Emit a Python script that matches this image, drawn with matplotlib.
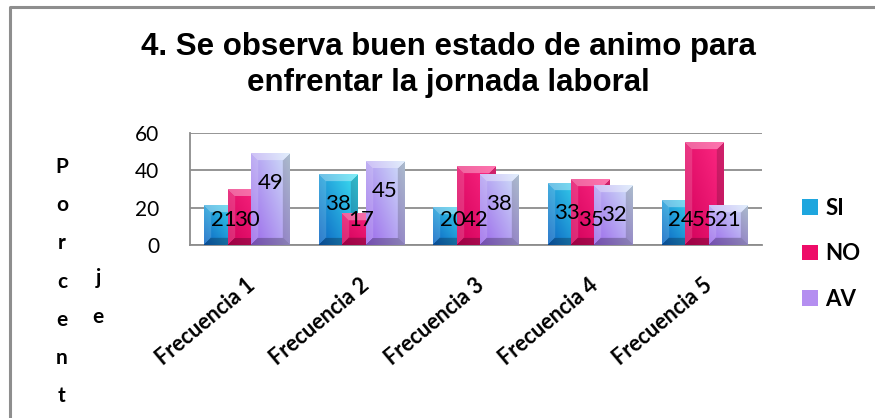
import numpy as np
import matplotlib.pyplot as plt
from matplotlib.colors import to_rgb
from matplotlib.patches import Rectangle
from matplotlib.lines import Line2D
from matplotlib.transforms import ScaledTranslation

# data
categories = ['Frecuencia 1', 'Frecuencia 2', 'Frecuencia 3', 'Frecuencia 4', 'Frecuencia 5']
si = [21, 38, 20, 33, 24]
no = [30, 17, 42, 35, 55]
av = [49, 45, 38, 32, 21]
series_names = ['SI', 'NO', 'AV']
y_ticks = [0, 20, 40, 60]
title_lines = ['4. Se observa buen estado de animo para', 'enfrentar la jornada laboral']
y_word = 'Porcentaje'

# low / high colour of each series gradient, plus flat colour for legend
grad = {'SI': ('#0b62c2', '#3ee6f4'), 'NO': ('#d2005a', '#ff2a84'), 'AV': ('#9a66ea', '#d2e6fa')}
flat = {'SI': '#1ea6de', 'NO': '#ee0c68', 'AV': '#b48ef0'}

W, H = 875, 418
fig = plt.figure(figsize=(W / 100, H / 100), dpi=100)
ax = fig.add_axes([190 / W, 173 / H, 572 / W, 112 / H])

px_x = 572 / 5.0
px_y = 112 / 60.0


def bevel_image(w_units, h_units, c_lo, c_hi, b=7):
    nx = max(int(w_units * px_x), 2)
    ny = max(int(h_units * px_y), 2)
    xx, yy = np.meshgrid(np.arange(nx) + 0.5, np.arange(ny) + 0.5)
    t = np.clip(0.55 * xx / nx + 0.45 * (1 - yy / ny), 0, 1)[..., None]
    rgb = np.array(to_rgb(c_lo)) * (1 - t) + np.array(to_rgb(c_hi)) * t
    d = np.stack([yy, ny - yy, xx, nx - xx])
    face = d.argmin(0)
    edge = d.min(0) < b
    shade = np.array([0.35, -0.25, 0.15, -0.18])[face]
    shade = np.where(edge, shade, 0.0)[..., None]
    light = rgb + (1 - rgb) * np.clip(shade, 0, 1)
    dark = rgb * (1 + np.clip(shade, -1, 0))
    return np.where(shade > 0, light, dark)


def label_y(name, v):
    # where the labels sit in the original chart
    if name == 'NO':
        return 13.5
    return max(v - 16, 13.5)


x = np.arange(len(categories))
width = 0.34
step = 0.205
for i, (name, vals) in enumerate(zip(series_names, [si, no, av])):
    bars = ax.bar(x + (i - 1) * step, vals, width, color=flat[name],
                  zorder=3 + i, label=name, linewidth=0)
    for rect, v in zip(bars, vals):
        img = bevel_image(rect.get_width(), v, *grad[name])
        ax.imshow(img, extent=(rect.get_x(), rect.get_x() + rect.get_width(), 0, v),
                  aspect='auto', interpolation='bilinear', zorder=3 + i)
        ax.text(rect.get_x() + rect.get_width() / 2, label_y(name, v), str(v),
                ha='center', va='center', fontsize=16, family='Lato', zorder=10)

ax.set_xlim(-0.5, 4.5)
ax.set_ylim(0, 60)
ax.set_yticks(y_ticks)
ax.yaxis.grid(True, color='#8c8c8c', linewidth=1.3)
ax.set_axisbelow(True)
for s in ['top', 'right']:
    ax.spines[s].set_visible(False)
for s in ['left', 'bottom']:
    ax.spines[s].set_color('#8c8c8c')
    ax.spines[s].set_linewidth(1.3)
ax.tick_params(axis='y', length=0, pad=22, labelsize=15)
ax.tick_params(axis='x', length=0, pad=27, labelsize=15.5)
for lab in ax.get_yticklabels():
    lab.set_family('Lato')
ax.set_xticks(x)
ax.set_xticklabels(categories, rotation=40, ha='right', va='center',
                   rotation_mode='anchor', family='Lato', fontweight='bold')
shift = ScaledTranslation(5 / 100, 0, fig.dpi_scale_trans)
for lab in ax.get_xticklabels():
    lab.set_transform(lab.get_transform() + shift)

for k, line in enumerate(title_lines):
    fig.text(448 / W, 1 - (55 + 36 * k) / H, line, ha='center', va='baseline',
             fontsize=22.5, fontweight='bold', family='Liberation Sans')

# vertical axis word, letters stacked in two columns
for k, ch in enumerate(y_word[:7]):
    fig.text(62 / W, 1 - (167 + 38.2 * k) / H, ch, ha='center', va='center',
             fontsize=15, fontweight='bold', family='Lato')
for k, ch in enumerate(y_word[8:]):
    fig.text(98 / W, 1 - (278 + 38.7 * k) / H, ch, ha='center', va='center',
             fontsize=15, fontweight='bold', family='Lato')

handles = [Rectangle((0, 0), 1, 1, facecolor=flat[n], edgecolor='none') for n in series_names]
leg = fig.legend(handles, series_names, loc='upper left', bbox_to_anchor=(802 / W, 1 - 198 / H),
                 frameon=False, handlelength=0.7, handleheight=0.7, handletextpad=0.35,
                 labelspacing=1.1, borderpad=0, borderaxespad=0,
                 prop={'family': 'Lato', 'weight': 'bold', 'size': 16})

# outer frame: only left and top edges show in the picture
fig.lines.append(Line2D([9.5 / W, 9.5 / W, 1.0], [0.0, 1 - 7 / H, 1 - 7 / H],
                        transform=fig.transFigure, color='#8e8e8e', linewidth=2.2))

fig.savefig('out.png', dpi=100)
